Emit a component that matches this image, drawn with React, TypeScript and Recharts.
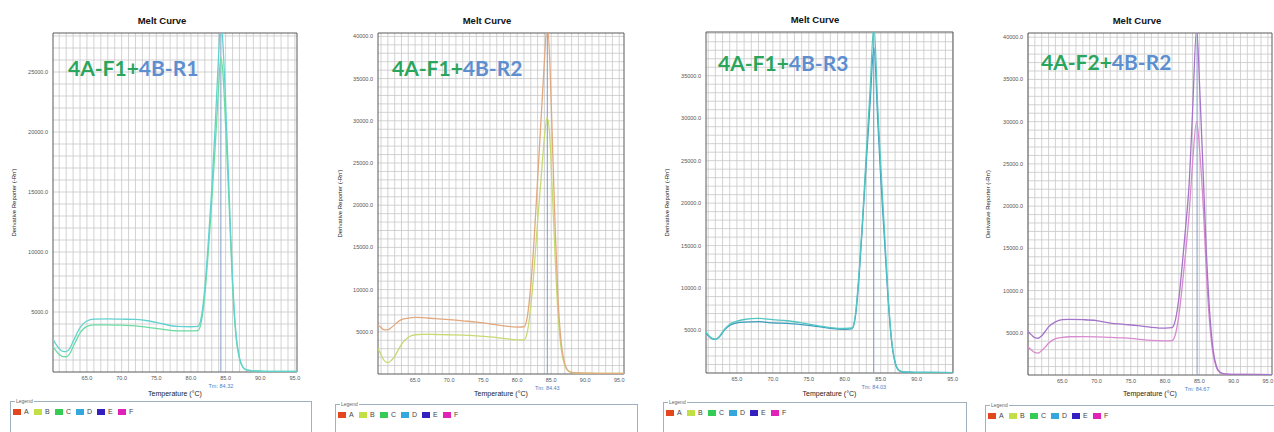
import React from 'react';
import {
  LineChart,
  Line,
  XAxis,
  YAxis,
  CartesianGrid,
  ReferenceLine,
  ReferenceArea,
} from 'recharts';

/* ------------------------------------------------------------------ */
/*  Data                    */
/* ------------------------------------------------------------------ */

// panel 1 : 4A-F1 + 4B-R1
const panel1Temps = [60, 60.5, 61, 61.5, 62, 62.5, 63, 63.5, 64, 65, 66, 68, 70, 72, 74, 76, 78, 80, 81, 81.5, 82, 82.5, 83, 83.5, 84, 84.3, 84.6, 85, 85.5, 86, 86.5, 87, 87.5, 88, 89, 90, 92, 95.5];
const panel1Upper = [2800, 2350, 1950, 1720, 1700, 1950, 2550, 3150, 3700, 4250, 4400, 4420, 4400, 4380, 4250, 4000, 3800, 3770, 3800, 4600, 7000, 10800, 15200, 20500, 26500, 29500, 27500, 22500, 15000, 7800, 3200, 1200, 400, 180, 100, 80, 60, 50];
const panel1Lower = [2200, 1800, 1450, 1280, 1270, 1500, 2100, 2700, 3250, 3800, 3920, 3930, 3900, 3850, 3700, 3550, 3430, 3420, 3450, 4200, 6400, 10000, 14200, 18800, 23800, 26200, 25000, 20500, 14000, 7200, 2900, 1100, 380, 170, 100, 80, 60, 50];

// panel 2 : 4A-F1 + 4B-R2
const panel2Temps = [59.5, 60, 60.5, 61, 61.5, 62, 62.5, 63, 64, 65, 66, 68, 70, 72, 74, 76, 78, 80, 81, 81.5, 82, 82.5, 83, 83.5, 84, 84.4, 84.8, 85.2, 85.6, 86, 86.5, 87, 87.5, 88, 89, 90, 92, 96];
const panel2Upper = [5850, 5500, 5220, 5250, 5500, 5850, 6200, 6450, 6620, 6700, 6680, 6550, 6450, 6300, 6150, 5950, 5700, 5550, 5600, 6800, 10500, 16000, 23000, 30000, 37000, 41500, 37000, 27000, 17000, 9000, 3500, 1200, 400, 200, 120, 100, 80, 60];
const panel2Lower = [3100, 2300, 1550, 1340, 1600, 2100, 2800, 3500, 4350, 4650, 4700, 4680, 4650, 4600, 4520, 4400, 4220, 4050, 4050, 5000, 8000, 12500, 18000, 23000, 28000, 30400, 28000, 21000, 13500, 7200, 2800, 1000, 350, 180, 120, 100, 80, 60];

// panel 3 : 4A-F1 + 4B-R3
const panel3Temps = [60.5, 61, 61.5, 62, 62.5, 63, 63.5, 64, 65, 66, 68, 70, 72, 74, 76, 78, 80, 81, 81.5, 82, 82.5, 83, 83.5, 84.05, 84.6, 85, 85.5, 86, 86.5, 87, 87.5, 88, 89, 90, 92, 95.5];
const panel3Upper = [5000, 4500, 4100, 3970, 4250, 4850, 5350, 5750, 6100, 6300, 6430, 6280, 6150, 5900, 5600, 5350, 5250, 5300, 7000, 12000, 18500, 26000, 33000, 41000, 31000, 24500, 17000, 9500, 4000, 1300, 350, 150, 100, 80, 60, 50];
const panel3Lower = [4900, 4400, 4050, 3950, 4200, 4750, 5250, 5600, 5900, 6000, 6050, 5900, 5850, 5700, 5500, 5250, 5150, 5200, 6800, 11500, 18000, 25000, 31500, 38300, 29500, 23000, 16000, 9000, 3800, 1200, 330, 140, 100, 80, 60, 50];

// panel 4 : 4A-F2 + 4B-R2
const panel4Temps = [60, 60.5, 61, 61.5, 62, 62.5, 63, 64, 65, 66, 68, 70, 72, 74, 76, 78, 80, 81, 81.5, 82, 82.5, 83, 83.5, 84, 84.6, 85.1, 85.6, 86, 86.5, 87, 87.5, 88, 88.5, 89, 90, 92, 96];
const panel4Upper = [5150, 4750, 4420, 4350, 4650, 5150, 5700, 6300, 6550, 6580, 6550, 6450, 6150, 6000, 5850, 5650, 5550, 5600, 6500, 9000, 13000, 17500, 22500, 31000, 41000, 33000, 23000, 15000, 7500, 3000, 1000, 350, 150, 100, 80, 60, 50];
const panel4Lower = [3350, 2950, 2650, 2600, 2900, 3300, 3750, 4300, 4450, 4530, 4550, 4520, 4450, 4400, 4250, 4100, 4050, 4080, 4800, 7000, 10500, 14500, 19000, 25000, 30000, 26000, 19500, 12500, 6200, 2500, 850, 300, 130, 100, 80, 60, 50];

const forwardPrimers = ['4A-F1', '4A-F1', '4A-F1', '4A-F2'];
const reversePrimers = ['4B-R1', '4B-R2', '4B-R3', '4B-R2'];
const tmValues = [84.32, 84.43, 84.03, 84.67];

const xTickValues = [65, 70, 75, 80, 85, 90, 95];
const yTicks25k = [5000, 10000, 15000, 20000, 25000];
const yTicks35k = [5000, 10000, 15000, 20000, 25000, 30000, 35000];
const yTicks40k = [5000, 10000, 15000, 20000, 25000, 30000, 35000, 40000];

const legendKeys = ['A', 'B', 'C', 'D', 'E', 'F'];
const legendColors = ['#e4461e', '#c2e046', '#34cc55', '#34a8dc', '#3420c0', '#e022b8'];

/* ------------------------------------------------------------------ */
/*  Layout / style per panel                                           */
/* ------------------------------------------------------------------ */

const FONT = '"Liberation Sans", Arial, sans-serif';
const CHART_H = 400;

const PANELS = [
  {
    temps: panel1Temps, upper: panel1Upper, lower: panel1Lower,
    upperColor: '#62d2d0', lowerColor: '#6cdca2',
    xDomain: [60.1, 95.3], yMax: 28250, yTicks: yTicks25k,
    chartLeft: 0, chartWidth: 320, yAxisWidth: 53, rightMargin: 23, plotTop: 33, plotBottom: 372,
    yLabelOffset: 14, titleX: 162, titleY: 21, tagX: 68, tagY: 68,
    legendLeft: 10, legendTop: 401, legendWidth: 302,
  },
  {
    temps: panel2Temps, upper: panel2Upper, lower: panel2Lower,
    upperColor: '#e2a87e', lowerColor: '#c6da72',
    xDomain: [59.55, 95.7], yMax: 40400, yTicks: yTicks40k,
    chartLeft: 320, chartWidth: 330, yAxisWidth: 58, rightMargin: 26, plotTop: 33, plotBottom: 374,
    yLabelOffset: 20, titleX: 487, titleY: 21, tagX: 392, tagY: 68,
    legendLeft: 335, legendTop: 404, legendWidth: 303,
  },
  {
    temps: panel3Temps, upper: panel3Upper, lower: panel3Lower,
    upperColor: '#52c6c2', lowerColor: '#3c9cbc',
    xDomain: [60.7, 95.05], yMax: 40150, yTicks: yTicks35k,
    chartLeft: 650, chartWidth: 320, yAxisWidth: 56, rightMargin: 17, plotTop: 32, plotBottom: 373,
    yLabelOffset: 17, titleX: 815, titleY: 20, tagX: 718, tagY: 63,
    legendLeft: 663, legendTop: 402, legendWidth: 304,
  },
  {
    temps: panel4Temps, upper: panel4Upper, lower: panel4Lower,
    upperColor: '#a474c8', lowerColor: '#d98ad0',
    xDomain: [60.0, 95.6], yMax: 40500, yTicks: yTicks40k,
    chartLeft: 970, chartWidth: 320, yAxisWidth: 58, rightMargin: 18, plotTop: 33, plotBottom: 375,
    yLabelOffset: 18, titleX: 1137, titleY: 21, tagX: 1041, tagY: 62,
    legendLeft: 985, legendTop: 405, legendWidth: 320,
  },
];

type PanelDef = (typeof PANELS)[number];

const tickStyle = { fontSize: 5.5, fill: '#555', fontFamily: FONT };

/* ------------------------------------------------------------------ */
/*  One melt curve panel                                               */
/* ------------------------------------------------------------------ */

function MeltPanel({ p, idx }: { p: PanelDef; idx: number }) {
  const rows = p.temps.map((t, i) => ({ t, upper: p.upper[i], lower: p.lower[i] }));

  // fine grid: every 1 °C and every 1000 units
  const vGrid: number[] = [];
  for (let v = Math.ceil(p.xDomain[0]); v <= p.xDomain[1]; v++) vGrid.push(v);
  const hGrid: number[] = [];
  for (let v = 1000; v < p.yMax; v += 1000) hGrid.push(v);

  const tm = tmValues[idx];

  return (
    <>
      <div
        style={{
          position: 'absolute', left: p.titleX - 60, top: p.titleY - 6, width: 120,
          textAlign: 'center', fontFamily: FONT, fontWeight: 'bold', fontSize: 9.5, color: '#111', lineHeight: '12px',
        }}
      >
        Melt Curve
      </div>

      <div style={{ position: 'absolute', left: p.chartLeft, top: 0 }}>
        <LineChart
          width={p.chartWidth}
          height={CHART_H}
          data={rows}
          margin={{ top: p.plotTop, right: p.rightMargin, bottom: 0, left: 0 }}
        >
          <CartesianGrid stroke="#c8c8c8" strokeWidth={0.8} verticalValues={vGrid} horizontalValues={hGrid} />

          <XAxis
            dataKey="t"
            type="number"
            domain={p.xDomain}
            allowDataOverflow
            ticks={xTickValues}
            interval={0}
            tickFormatter={(v: number) => v.toFixed(1)}
            tick={tickStyle}
            tickLine={false}
            tickSize={0}
            axisLine={false}
            tickMargin={4}
            height={CHART_H - p.plotBottom}
            label={{ value: 'Temperature (°C)', position: 'insideBottom', offset: 4, fontSize: 7, fill: '#222', fontFamily: FONT }}
          />
          <YAxis
            type="number"
            domain={[0, p.yMax]}
            allowDataOverflow
            ticks={p.yTicks}
            interval={0}
            tickFormatter={(v: number) => v.toFixed(1)}
            tick={tickStyle}
            tickLine={false}
            tickSize={0}
            axisLine={false}
            tickMargin={5}
            width={p.yAxisWidth}
            label={{
              value: "Derivative Reporter (-Rn')",
              angle: -90,
              position: 'insideLeft',
              offset: p.yLabelOffset,
              style: { textAnchor: 'middle' },
              fontSize: 6,
              fill: '#222',
              fontFamily: FONT,
            }}
          />

          <ReferenceArea
            x1={p.xDomain[0]}
            x2={p.xDomain[1]}
            y1={0}
            y2={p.yMax}
            fill="none"
            stroke="#5a5a5a"
            strokeWidth={1}
            ifOverflow="visible"
          />

          <ReferenceLine
            x={tm}
            stroke="#7f9cc6"
            strokeWidth={1}
            label={{ value: `Tm: ${tm.toFixed(2)}`, position: 'bottom', offset: 12, fontSize: 5.5, fill: '#4d7fc4', fontFamily: FONT }}
          />

          <Line type="monotone" dataKey="lower" stroke={p.lowerColor} strokeWidth={1.3} dot={false} isAnimationActive={false} />
          <Line type="monotone" dataKey="upper" stroke={p.upperColor} strokeWidth={1.3} dot={false} isAnimationActive={false} />
        </LineChart>
      </div>

      {/* primer pair tag */}
      <div
        style={{
          position: 'absolute', left: p.tagX, top: p.tagY - 15, fontFamily: 'Lato, "Open Sans", sans-serif',
          fontWeight: 700, fontSize: 21, lineHeight: '30px', whiteSpace: 'nowrap',
        }}
      >
        <span style={{ color: '#2aa55c' }}>{forwardPrimers[idx]}+</span>
        <span style={{ color: '#5d8fd0' }}>{reversePrimers[idx]}</span>
      </div>

      {/* legend box */}
      <div
        style={{
          position: 'absolute', left: p.legendLeft, top: p.legendTop, width: p.legendWidth, height: 60,
          border: '1px solid #9fb0c0', boxSizing: 'border-box', fontFamily: FONT,
        }}
      >
        <span style={{ position: 'absolute', left: 4, top: -4, fontSize: 5, color: '#666', background: '#fff', padding: '0 1px', lineHeight: '7px' }}>
          Legend
        </span>
        <div style={{ position: 'absolute', left: 2, top: 6, display: 'flex' }}>
          {legendKeys.map((k, i) => (
            <div key={k} style={{ display: 'flex', alignItems: 'center', width: 21 }}>
              <span style={{ display: 'inline-block', width: 8, height: 6, background: legendColors[i], marginRight: 3 }} />
              <span style={{ fontSize: 7, color: '#444', lineHeight: '8px' }}>{k}</span>
            </div>
          ))}
        </div>
      </div>
    </>
  );
}

export default function App() {
  return (
    <div
      style={{
        position: 'absolute', left: 0, top: 0, width: 1274, height: 432,
        overflow: 'hidden', background: '#fff',
      }}
    >
      {PANELS.map((p, i) => (
        <MeltPanel key={i} p={p} idx={i} />
      ))}
    </div>
  );
}
